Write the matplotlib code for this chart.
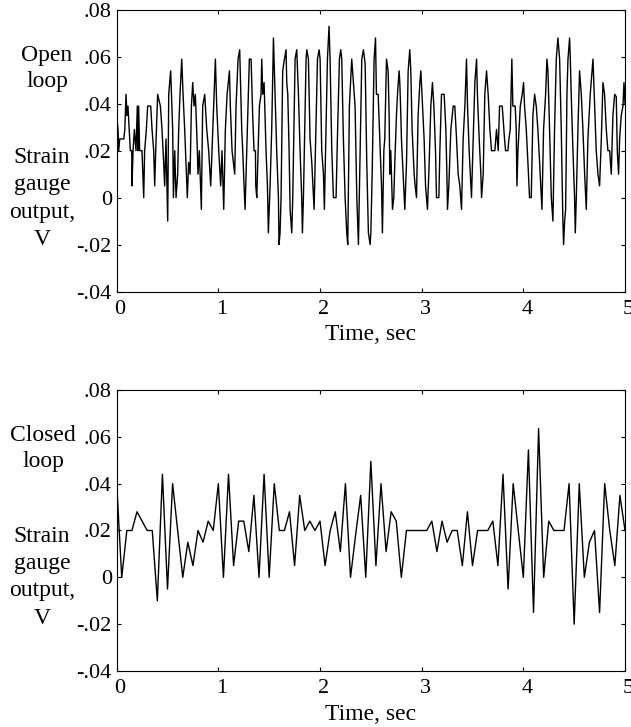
import matplotlib
matplotlib.use("Agg")
import numpy as np
import matplotlib.pyplot as plt
from matplotlib import transforms

plt.rcParams['font.family'] = ['Liberation Serif', 'DejaVu Serif']

# open loop record: vertices (time s, volts)
open_t = [
    0.000, 0.013, 0.020, 0.030, 0.070, 0.080, 0.092, 0.102, 0.111, 0.134,
    0.148, 0.151, 0.161, 0.174, 0.190, 0.203, 0.210, 0.216, 0.226, 0.249,
    0.266, 0.275, 0.292, 0.305, 0.335, 0.348, 0.364, 0.374, 0.384, 0.403,
    0.430, 0.446, 0.462, 0.472, 0.485, 0.502, 0.512, 0.531, 0.551, 0.558,
    0.571, 0.584, 0.600, 0.610, 0.623, 0.640, 0.653, 0.669, 0.682, 0.695,
    0.708, 0.722, 0.735, 0.748, 0.761, 0.774, 0.790, 0.800, 0.813, 0.833,
    0.846, 0.866, 0.886, 0.905, 0.925, 0.938, 0.958, 0.971, 0.984, 1.004,
    1.023, 1.036, 1.053, 1.069, 1.086, 1.109, 1.118, 1.135, 1.148, 1.161,
    1.174, 1.194, 1.210,
    1.230, 1.240, 1.253, 1.263, 1.279, 1.305, 1.322, 1.338, 1.351, 1.365,
    1.368, 1.378, 1.404, 1.420, 1.427, 1.437, 1.450, 1.469, 1.483, 1.492,
    1.509, 1.525, 1.542, 1.551, 1.558, 1.574, 1.591, 1.597, 1.607, 1.617,
    1.633, 1.650, 1.666, 1.673, 1.683, 1.696, 1.706, 1.722, 1.732, 1.755,
    1.771, 1.788, 1.804, 1.820, 1.827, 1.837, 1.863, 1.870, 1.886, 1.902,
    1.919, 1.942, 1.975, 1.991, 2.001, 2.017, 2.034, 2.043, 2.073, 2.089,
    2.099, 2.116, 2.132, 2.158, 2.171, 2.191, 2.204, 2.214, 2.230, 2.247,
    2.263, 2.273, 2.289, 2.312, 2.329, 2.345, 2.362, 2.378, 2.411, 2.427,
    2.444, 2.460, 2.476, 2.493,
    2.500, 2.513, 2.532, 2.546, 2.555, 2.572, 2.588, 2.605, 2.614, 2.628,
    2.637, 2.654, 2.670, 2.680, 2.687, 2.696, 2.703, 2.713, 2.726, 2.736,
    2.752, 2.762, 2.778, 2.785, 2.795, 2.801, 2.818, 2.834, 2.851, 2.867,
    2.883, 2.893, 2.906, 2.926, 2.936, 2.949, 2.965, 2.982, 2.992, 3.008,
    3.024, 3.038, 3.057, 3.074, 3.090, 3.106, 3.120, 3.136, 3.146, 3.169,
    3.179, 3.195, 3.221, 3.238, 3.248, 3.254, 3.267, 3.287, 3.310, 3.326,
    3.343, 3.359, 3.375, 3.392, 3.408, 3.425, 3.441, 3.451, 3.467, 3.484,
    3.490, 3.507, 3.523, 3.540, 3.549, 3.566, 3.582, 3.589, 3.605, 3.621,
    3.638, 3.654, 3.671, 3.687, 3.720, 3.736, 3.753,
    3.766, 3.792, 3.799, 3.815, 3.825, 3.848, 3.858, 3.871, 3.887, 3.897,
    3.920, 3.930, 3.937, 3.947, 3.970, 3.989, 4.002, 4.012, 4.029, 4.045,
    4.061, 4.078, 4.094, 4.111, 4.127, 4.143, 4.160, 4.183, 4.199, 4.219,
    4.232, 4.242, 4.258, 4.275, 4.291, 4.307, 4.324, 4.340, 4.357, 4.373,
    4.389, 4.396, 4.406, 4.416, 4.429, 4.439, 4.455, 4.462, 4.471, 4.488,
    4.504, 4.511, 4.521, 4.537, 4.553, 4.570, 4.586, 4.603, 4.619, 4.635,
    4.658, 4.685, 4.701, 4.717, 4.734, 4.750, 4.767, 4.783, 4.799, 4.816,
    4.832, 4.849, 4.865, 4.881, 4.898, 4.914, 4.924, 4.937, 4.947, 4.963,
    4.980, 4.990, 5.000,
]
open_v = [
    0.035, 0.029, 0.020, 0.025, 0.025, 0.029, 0.044, 0.035, 0.039, 0.020,
    0.020, 0.005, 0.020, 0.029, 0.020, 0.039, 0.020, 0.039, 0.020, 0.020,
    0.000, 0.020, 0.029, 0.039, 0.039, 0.029, 0.020, 0.005, 0.020, 0.044,
    0.039, 0.029, 0.015, 0.005, 0.025, -0.010, 0.044, 0.054, 0.029, 0.000,
    0.020, 0.000, 0.010, 0.029, 0.044, 0.059, 0.044, 0.029, 0.015, 0.000,
    0.015, 0.010, 0.039, 0.049, 0.039, 0.044, 0.025, 0.010, 0.020, -0.005,
    0.039, 0.044, 0.029, 0.020, 0.005, 0.020, 0.044, 0.059, 0.039, 0.020,
    0.005, 0.020, -0.005, 0.029, 0.044, 0.054, 0.039, 0.020, 0.015, 0.010,
    0.039, 0.059, 0.063,
    0.029, 0.020, 0.005, -0.005, 0.020, 0.059, 0.059, 0.035, 0.020, 0.020,
    0.005, 0.000, 0.039, 0.044, 0.059, 0.044, 0.049, 0.020, 0.005, -0.015,
    0.005, 0.029, 0.068, 0.054, 0.044, 0.020, 0.000, -0.020, -0.015, 0.000,
    0.054, 0.059, 0.063, 0.049, 0.044, 0.020, -0.005, -0.015, 0.000, 0.059,
    0.063, 0.044, 0.020, 0.000, -0.015, 0.000, 0.059, 0.063, 0.059, 0.025,
    0.015, -0.005, 0.059, 0.063, 0.059, 0.020, 0.010, -0.005, 0.059, 0.073,
    0.059, 0.020, 0.000, 0.000, 0.025, 0.059, 0.063, 0.059, 0.025, 0.000,
    -0.015, -0.020, 0.039, 0.059, 0.049, 0.039, 0.000, -0.020, 0.059, 0.063,
    0.057, 0.015, -0.015, -0.020,
    -0.015, 0.010, 0.059, 0.068, 0.044, 0.044, 0.025, 0.005, -0.015, 0.020,
    0.025, 0.059, 0.054, 0.035, 0.010, 0.020, 0.010, -0.005, 0.000, 0.015,
    0.035, 0.044, 0.054, 0.049, 0.035, 0.025, 0.010, -0.005, 0.015, 0.054,
    0.063, 0.054, 0.029, 0.010, 0.005, 0.000, 0.035, 0.049, 0.054, 0.039,
    0.025, 0.005, -0.005, 0.015, 0.039, 0.049, 0.039, 0.020, 0.000, 0.000,
    0.020, 0.044, 0.044, 0.029, 0.010, -0.005, 0.005, 0.029, 0.039, 0.039,
    0.025, 0.010, 0.005, -0.005, 0.025, 0.039, 0.059, 0.039, 0.020, 0.005,
    0.000, 0.025, 0.049, 0.059, 0.043, 0.025, 0.010, 0.000, 0.010, 0.044,
    0.054, 0.044, 0.029, 0.020, 0.020, 0.029, 0.020,
    0.039, 0.039, 0.035, 0.025, 0.020, 0.020, 0.025, 0.029, 0.059, 0.039,
    0.039, 0.029, 0.005, 0.020, 0.039, 0.044, 0.049, 0.039, 0.029, 0.015,
    0.000, 0.000, 0.035, 0.044, 0.039, 0.029, 0.015, -0.005, 0.029, 0.044,
    0.059, 0.054, 0.029, 0.000, -0.010, 0.029, 0.059, 0.068, 0.059, 0.029,
    -0.010, -0.020, -0.010, -0.005, 0.044, 0.059, 0.068, 0.059, 0.044, 0.020,
    0.000, -0.015, 0.000, 0.029, 0.054, 0.044, 0.029, 0.010, -0.005, 0.025,
    0.044, 0.059, 0.039, 0.020, 0.010, 0.005, 0.025, 0.049, 0.044, 0.029,
    0.020, 0.020, 0.010, 0.035, 0.044, 0.043, 0.020, 0.010, 0.025, 0.035,
    0.039, 0.049, 0.040,
]

# closed loop record, sampled every 0.05 s
closed_dt = 0.05
closed_v = [
    0.040, 0.000, 0.020, 0.020, 0.028, 0.024, 0.020, 0.020, -0.010, 0.044,
    -0.005, 0.040, 0.020, 0.000, 0.015, 0.005, 0.020, 0.015, 0.024, 0.020,
    0.040, 0.000, 0.044, 0.005, 0.024, 0.024, 0.011, 0.035, 0.000, 0.044,
    0.000, 0.040, 0.020, 0.020, 0.028, 0.005, 0.035, 0.020, 0.024, 0.020,
    0.024, 0.005, 0.020, 0.028, 0.011, 0.040, 0.000, 0.018, 0.035, 0.000,
    0.0495, 0.005, 0.040, 0.011, 0.028, 0.024, 0.000, 0.020, 0.020, 0.020,
    0.020, 0.020, 0.024, 0.011, 0.024, 0.015, 0.020, 0.020, 0.005, 0.028,
    0.005, 0.020, 0.020, 0.020, 0.024, 0.005, 0.044, -0.005, 0.040, 0.020,
    0.000, 0.0544, -0.015, 0.0635, 0.000, 0.024, 0.020, 0.020, 0.020, 0.040,
    -0.020, 0.040, 0.000, 0.015, 0.020, -0.015, 0.040, 0.020, 0.005, 0.035,
    0.020,
]
closed_t = np.arange(len(closed_v)) * closed_dt

x_ticks = [0, 1, 2, 3, 4, 5]
y_ticks = [-0.04, -0.02, 0, 0.02, 0.04, 0.06, 0.08]
y_labels = ['-.04', '-.02', '0', '.02', '.04', '.06', '.08']

fig = plt.figure(figsize=(6.31, 7.27), dpi=100)
ax1 = fig.add_axes([0.1849, 0.5990, 0.8056, 0.3875])
ax2 = fig.add_axes([0.1849, 0.0770, 0.8056, 0.3866])

ax1.plot(open_t, open_v, color='black', lw=1.0)
ax2.plot(closed_t, closed_v, color='black', lw=1.0)

shift = transforms.ScaledTranslation(3.5 / 100, 0, fig.dpi_scale_trans)
for ax in (ax1, ax2):
    ax.set_xlim(0, 5)
    ax.set_ylim(-0.04, 0.08)
    ax.set_xticks(x_ticks)
    ax.set_xticklabels([str(v) for v in x_ticks])
    ax.set_yticks(y_ticks)
    ax.set_yticklabels(y_labels)
    ax.tick_params(axis='both', direction='in', top=True, right=True,
                   length=3, width=0.8, labelsize=16)
    ax.tick_params(axis='x', pad=6)
    ax.tick_params(axis='y', pad=3.5)
    for lab in ax.get_xticklabels():
        lab.set_transform(lab.get_transform() + shift)
    for sp in ax.spines.values():
        sp.set_linewidth(0.8)
    ax.set_xlabel('Time, sec', fontsize=17, labelpad=4)

fig.text(0.0745, 0.906, 'Open\nloop', fontsize=17, ha='center', va='center',
         multialignment='center', linespacing=1.35)
fig.text(0.0666, 0.727, 'Strain\ngauge\noutput,\nV', fontsize=17, ha='center',
         va='center', multialignment='center', linespacing=1.38)
fig.text(0.0680, 0.383, 'Closed\nloop', fontsize=17, ha='center', va='center',
         multialignment='center', linespacing=1.35)
fig.text(0.0666, 0.2057, 'Strain\ngauge\noutput,\nV', fontsize=17, ha='center',
         va='center', multialignment='center', linespacing=1.38)

fig.savefig('out.png', dpi=100)
